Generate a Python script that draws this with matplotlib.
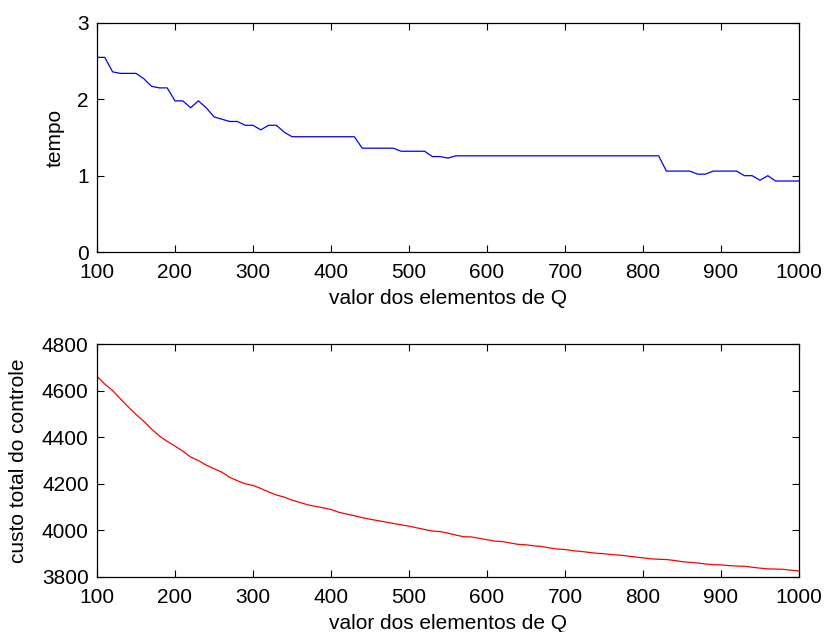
import matplotlib
matplotlib.use("Agg")
import matplotlib.pyplot as plt

plt.rcParams['font.family'] = ['Liberation Sans', 'DejaVu Sans']

q_values = list(range(100, 1001, 10))

tempo = [
    2.55, 2.55, 2.36, 2.34, 2.34, 2.34, 2.27, 2.17, 2.15, 2.15,
    1.98, 1.98, 1.89, 1.98, 1.89, 1.77, 1.74, 1.71, 1.71, 1.66,
    1.66, 1.60, 1.66, 1.66, 1.57, 1.51, 1.51, 1.51, 1.51, 1.51,
    1.51, 1.51, 1.51, 1.51, 1.36, 1.36, 1.36, 1.36, 1.36, 1.32,
    1.32, 1.32, 1.32, 1.25, 1.25, 1.23, 1.26, 1.26, 1.26, 1.26,
    1.26, 1.26, 1.26, 1.26, 1.26, 1.26, 1.26, 1.26, 1.26, 1.26,
    1.26, 1.26, 1.26, 1.26, 1.26, 1.26, 1.26, 1.26, 1.26, 1.26,
    1.26, 1.26, 1.26, 1.06, 1.06, 1.06, 1.06, 1.02, 1.02, 1.06,
    1.06, 1.06, 1.06, 1.00, 1.00, 0.94, 1.00, 0.93, 0.93, 0.93,
    0.93,
]

custo = [
    4661, 4628, 4600, 4565, 4530, 4498, 4468, 4435, 4405, 4382,
    4362, 4340, 4315, 4300, 4280, 4265, 4250, 4228, 4213, 4200,
    4193, 4180, 4165, 4152, 4143, 4130, 4120, 4110, 4103, 4097,
    4090, 4078, 4070, 4063, 4055, 4048, 4042, 4036, 4030, 4024,
    4018, 4011, 4004, 3997, 3995, 3988, 3980, 3973, 3972, 3966,
    3960, 3954, 3952, 3946, 3940, 3938, 3934, 3931, 3925, 3920,
    3918, 3913, 3910, 3906, 3902, 3900, 3896, 3894, 3890, 3886,
    3882, 3878, 3876, 3875, 3871, 3866, 3863, 3860, 3856, 3853,
    3852, 3849, 3847, 3846, 3842, 3838, 3835, 3834, 3833, 3829,
    3826,
]

x_ticks = [100, 200, 300, 400, 500, 600, 700, 800, 900, 1000]
tempo_ticks = [0, 1, 2, 3]
custo_ticks = [3800, 4000, 4200, 4400, 4600, 4800]
x_label = "valor dos elementos de Q"

W, H = 828, 632
fig = plt.figure(figsize=(W / 100, H / 100), dpi=100)

left = 97 / W
width = (799 - 97) / W
ax1 = fig.add_axes([left, 1 - 252 / H, width, (252 - 23) / H])
ax2 = fig.add_axes([left, 1 - 577 / H, width, (577 - 344) / H])

fs = 15

def style(ax):
    ax.set_xlim(100, 1000)
    ax.set_xticks(x_ticks)
    ax.tick_params(direction='in', top=True, right=True, length=5,
                   width=0.8, labelsize=fs)
    ax.tick_params(axis='x', pad=8)
    ax.tick_params(axis='y', pad=6)
    for s in ax.spines.values():
        s.set_linewidth(0.9)
    ax.set_xlabel(x_label, fontsize=fs, labelpad=5)

ax1.plot(q_values, tempo, color=(0, 0, 1), linewidth=0.9)
style(ax1)
ax1.set_ylim(0, 3)
ax1.set_yticks(tempo_ticks)
ax1.set_ylabel("tempo", fontsize=fs, labelpad=9)

ax2.plot(q_values, custo, color=(1, 0, 0), linewidth=0.9)
style(ax2)
ax2.set_ylim(3800, 4800)
ax2.set_yticks(custo_ticks)
ax2.set_ylabel("custo total do controle", fontsize=fs, labelpad=10)

fig.savefig("out.png", dpi=100)
